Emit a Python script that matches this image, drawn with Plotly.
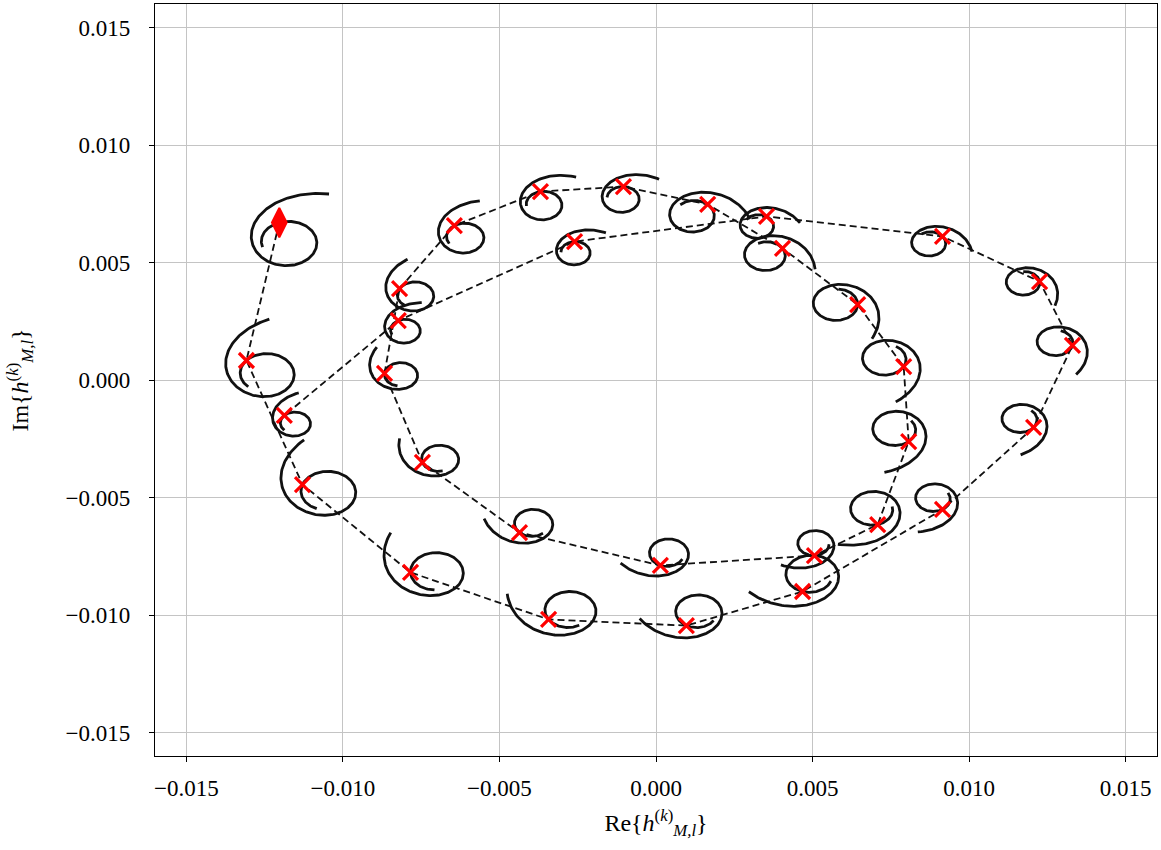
import numpy as np
import plotly.graph_objects as go

# ---- Data ----
# Path 1 (starts at the diamond marker)
p1_x = [-0.01203, -0.01308, -0.01129, -0.00784, -0.00343, 0.00097, 0.00468, 0.00915,
        0.01206, 0.01330, 0.01225, 0.00915, 0.00353, -0.00260, -0.00823, -0.01187]
p1_y = [0.00670, 0.00083, -0.00445, -0.00819, -0.01019, -0.01045, -0.00900, -0.00551,
        -0.00202, 0.00147, 0.00419, 0.00611, 0.00696, 0.00589, 0.00253, -0.00151]
# orientation of each curl (direction from curl centre to the marker, degrees) and curl radius
p1_curl_dir = [107, 137, 158, 180, 210, 238, 250, 300, 320, 345, 365, 395, 415, 450, 475, 494]
p1_curl_r = [0.00105, 0.00100, 0.00100, 0.00095, 0.00090, 0.00080, 0.00090, 0.00065,
             0.00065, 0.00065, 0.00060, 0.00060, 0.00058, 0.00056, 0.00056, 0.00056]

# Path 2 (closed inner loop)
p2_x = [-0.00819, -0.00644, -0.00369, -0.00104, 0.00165, 0.00404, 0.00644, 0.00791,
        0.00807, 0.00708, 0.00506, 0.00014, -0.00436, -0.00746, -0.00867, -0.00819]
p2_y = [0.00389, 0.00657, 0.00802, 0.00823, 0.00747, 0.00560, 0.00321, 0.00057,
        -0.00262, -0.00615, -0.00747, -0.00789, -0.00649, -0.00351, 0.00028, 0.00389]
p2_curl_dir = [148, 122, 98, 85, 45, 29, -3, -30, -51, -77, -90, -115, -138, -165, -188]
p2_curl_r = [0.00067, 0.00070, 0.00068, 0.00062, 0.00078, 0.00072, 0.00080, 0.00080,
             0.00080, 0.00080, 0.00060, 0.00067, 0.00067, 0.00066, 0.00060]

tick_vals = [-0.015, -0.010, -0.005, 0.0, 0.005, 0.010, 0.015]
tick_text = ["\u22120.015", "\u22120.010", "\u22120.005", "0.000", "0.005", "0.010", "0.015"]

# curl shape: spiral starting a little before the marker, ~1.4 turns clockwise, flaring at the end
SWEEP_START = 88.0
SWEEP_TOTAL = 498.0


def curl(x0, y0, th_deg, r0, n=260):
    s = np.linspace(0, 1, n)
    th = np.radians(th_deg + SWEEP_START - SWEEP_TOTAL * s)
    rf = 0.78 + 0.3 * s + 1.25 * np.clip((s - 0.6) / 0.4, 0, None) ** 3
    s0 = SWEEP_START / SWEEP_TOTAL
    rf0 = 0.78 + 0.3 * s0
    cx = x0 - rf0 * r0 * np.cos(np.radians(th_deg))
    cy = y0 - rf0 * r0 * np.sin(np.radians(th_deg))
    return cx + r0 * rf * np.cos(th), cy + r0 * rf * np.sin(th)


cxs, cys = [], []
for xs, ys, ds, rs in [(p1_x, p1_y, p1_curl_dir, p1_curl_r),
                       (p2_x[:-1], p2_y[:-1], p2_curl_dir, p2_curl_r)]:
    for x0, y0, d, r in zip(xs, ys, ds, rs):
        a, b = curl(x0, y0, d, r)
        cxs += list(a) + [None]
        cys += list(b) + [None]

fig = go.Figure()
fig.add_trace(go.Scatter(x=cxs, y=cys, mode="lines",
                         line=dict(color="#111111", width=2.8), hoverinfo="skip", showlegend=False))
for xs, ys in [(p1_x, p1_y), (p2_x, p2_y)]:
    fig.add_trace(go.Scatter(x=xs, y=ys, mode="lines",
                             line=dict(color="#111111", width=1.8, dash="7px,4px"),
                             showlegend=False))
mx = p1_x[1:] + p2_x[:-1]
my = p1_y[1:] + p2_y[:-1]
fig.add_trace(go.Scatter(x=mx, y=my, mode="markers",
                         marker=dict(symbol="x-thin", size=15, color="red",
                                     line=dict(color="red", width=3.2)),
                         showlegend=False))
fig.add_trace(go.Scatter(x=p1_x[:1], y=p1_y[:1], mode="markers",
                         marker=dict(symbol="diamond-tall", size=21, color="red",
                                     line=dict(color="red", width=2)),
                         showlegend=False))

serif = "Liberation Serif, DejaVu Serif, serif"
axis_common = dict(range=[-0.016, 0.016], tickvals=tick_vals, ticktext=tick_text,
                   showgrid=True, gridcolor="#c4c4c4", gridwidth=1.2,
                   zeroline=False, showline=True, linecolor="black", linewidth=1.2,
                   mirror=True, ticks="outside", ticklen=5, tickwidth=1.2, tickcolor="black",
                   tickfont=dict(family=serif, size=23, color="black"))

fig.update_layout(
    width=1161, height=850,
    margin=dict(l=155, r=4, t=4, b=94),
    paper_bgcolor="white", plot_bgcolor="white",
    xaxis=dict(**axis_common, ticklabelstandoff=6,
               title=dict(text="Re{<i>h</i><sup>(<i>k</i>)</sup><sub><i>M,l</i></sub>}",
                          font=dict(family=serif, size=24, color="black"),
                          standoff=14)),
    yaxis=dict(**axis_common, ticklabelstandoff=14,
               title=dict(text="Im{<i>h</i><sup>(<i>k</i>)</sup><sub><i>M,l</i></sub>}",
                          font=dict(family=serif, size=24, color="black"),
                          standoff=30)),
)

fig.write_html("out.html", config={"displayModeBar": False},
               post_script="document.body.style.margin='0';")
